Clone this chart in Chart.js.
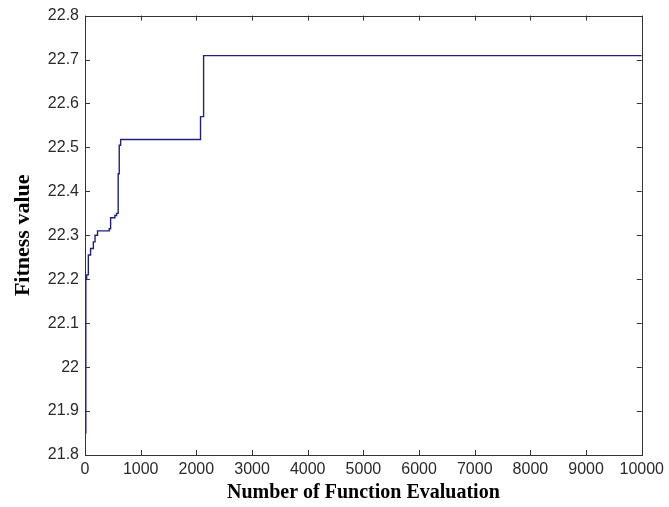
<!DOCTYPE html>
<html>
<head>
<meta charset="utf-8">
<script src="https://cdn.jsdelivr.net/npm/chart.js@4/dist/chart.umd.min.js"></script>
<style>
  html, body { margin: 0; padding: 0; background: #fff; }
  #wrap { width: 669px; height: 507px; }
</style>
</head>
<body>
<div id="wrap"><canvas id="fitnessChart"></canvas></div>
<script>
// best fitness so far vs. number of function evaluations
const evaluations = [0, 15, 30, 60, 100, 150, 180, 225, 435, 460, 537, 567, 596, 615, 640, 2075, 2130, 10000];
const fitness = [21.85, 22.2, 22.21, 22.255, 22.27, 22.285, 22.3, 22.31, 22.315, 22.34, 22.345, 22.35, 22.44, 22.505, 22.518, 22.57, 22.709, 22.709];

const xTicks = [0, 1000, 2000, 3000, 4000, 5000, 6000, 7000, 8000, 9000, 10000];
const yTicks = [21.8, 21.9, 22, 22.1, 22.2, 22.3, 22.4, 22.5, 22.6, 22.7, 22.8];

const points = evaluations.map((x, i) => ({ x: x, y: fitness[i] }));

// box round the plot plus inward ticks on all four sides (matlab style)
const boxPlugin = {
    id: 'boxTicks',
    afterDraw(chart) {
        const { ctx, chartArea: a, scales } = chart;
        ctx.save();
        ctx.strokeStyle = '#333';
        ctx.lineWidth = 1;
        ctx.strokeRect(Math.round(a.left) + 0.5, Math.round(a.top) + 0.5,
            Math.round(a.right - a.left), Math.round(a.bottom - a.top));
        ctx.beginPath();
        xTicks.forEach(v => {
            const px = Math.round(scales.x.getPixelForValue(v)) + 0.5;
            ctx.moveTo(px, a.bottom); ctx.lineTo(px, a.bottom - 5);
            ctx.moveTo(px, a.top); ctx.lineTo(px, a.top + 5);
        });
        yTicks.forEach(v => {
            const py = Math.round(scales.y.getPixelForValue(v)) + 0.5;
            ctx.moveTo(a.left, py); ctx.lineTo(a.left + 5, py);
            ctx.moveTo(a.right, py); ctx.lineTo(a.right - 5, py);
        });
        ctx.stroke();
        ctx.restore();
    }
};

const ctx = document.getElementById('fitnessChart').getContext('2d');
new Chart(ctx, {
    type: 'line',
    data: {
        datasets: [{
            label: 'Fitness',
            data: points,
            stepped: true,
            borderColor: '#20207f',
            borderWidth: 1.4,
            pointRadius: 0,
            fill: false
        }]
    },
    options: {
        responsive: true,
        maintainAspectRatio: false,
        animation: false,
        layout: { padding: { top: 15, right: 25, left: 0, bottom: 0 } },
        plugins: {
            legend: { display: false },
            tooltip: { enabled: false }
        },
        scales: {
            x: {
                type: 'linear',
                min: 0,
                max: 10000,
                afterBuildTicks: s => { s.ticks = xTicks.map(v => ({ value: v })); },
                afterFit: s => { s.height = 52; },
                grid: { display: false, drawTicks: false },
                border: { display: false },
                ticks: {
                    color: '#2a2a2a',
                    padding: 5,
                    maxRotation: 0,
                    font: { family: 'Liberation Sans, Arial, sans-serif', size: 16 },
                    callback: v => String(v)
                },
                title: {
                    display: true,
                    text: 'Number of Function Evaluation',
                    color: '#000',
                    padding: { top: 0, bottom: 2 },
                    font: { family: 'Liberation Serif, Times New Roman, serif', size: 20, weight: 'bold' }
                }
            },
            y: {
                type: 'linear',
                min: 21.8,
                max: 22.8,
                afterBuildTicks: s => { s.ticks = yTicks.map(v => ({ value: v })); },
                afterFit: s => { s.width = 85; },
                grid: { display: false, drawTicks: false },
                border: { display: false },
                ticks: {
                    color: '#2a2a2a',
                    padding: 6,
                    font: { family: 'Liberation Sans, Arial, sans-serif', size: 16 },
                    callback: v => String(parseFloat(Number(v).toFixed(1)))
                },
                title: {
                    display: true,
                    text: 'Fitness value',
                    color: '#000',
                    padding: { top: 10, bottom: 0 },
                    font: { family: 'Liberation Serif, Times New Roman, serif', size: 22, weight: 'bold' }
                }
            }
        }
    },
    plugins: [boxPlugin]
});
</script>
</body>
</html>
